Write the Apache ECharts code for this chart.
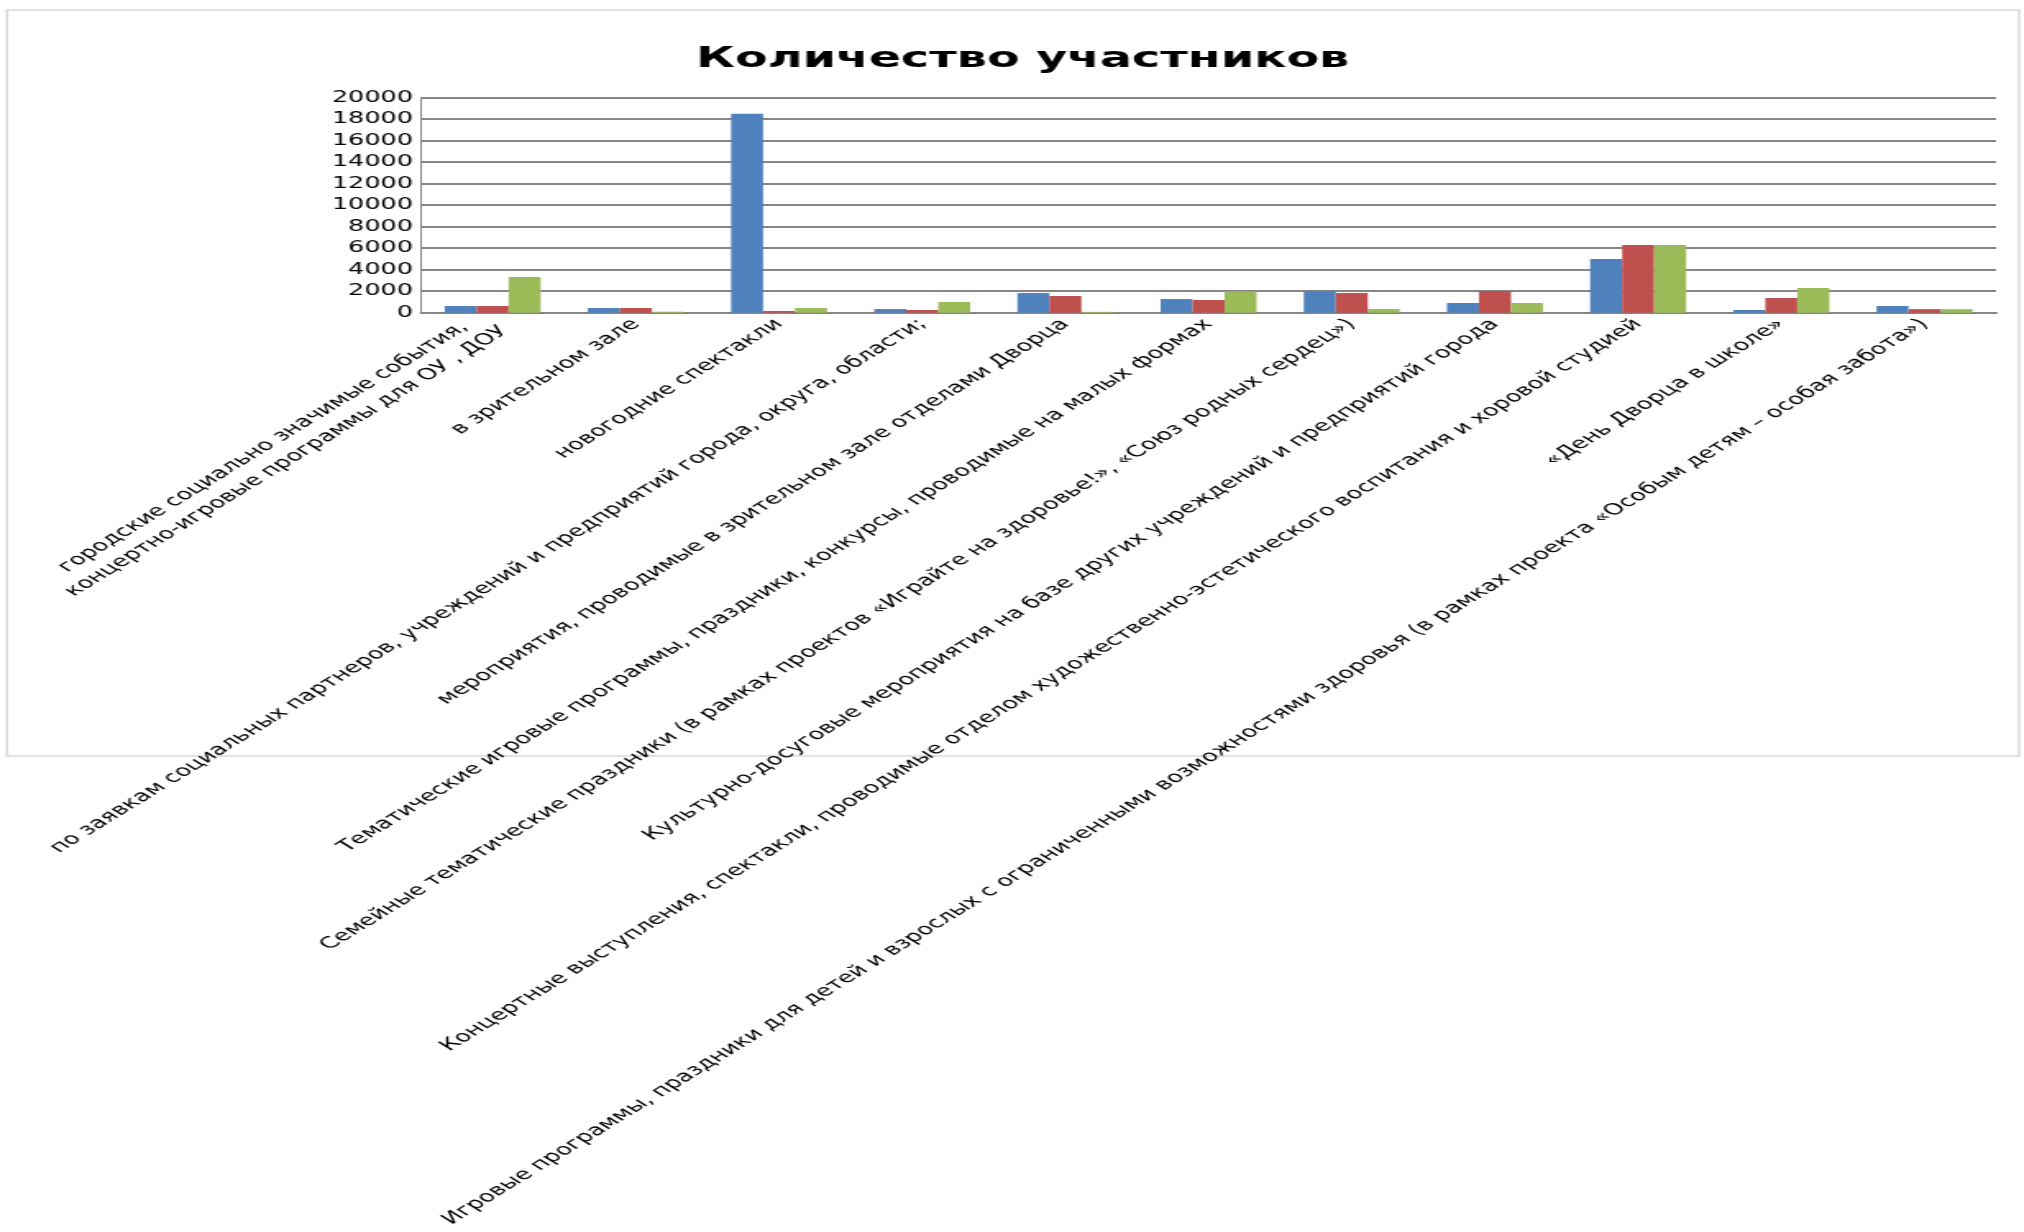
<!DOCTYPE html>
<html>
<head>
<meta charset="utf-8">
<script src="https://cdn.jsdelivr.net/npm/echarts@6/dist/echarts.min.js"></script>
<style>
html,body{margin:0;padding:0;overflow:hidden;background:#fff;width:2024px;height:1232px;}
#c{width:1233px;height:1232px;transform:scaleX(1.64152);transform-origin:0 0;}
</style>
</head>
<body>
<div id="c"></div>
<script>
// ---- data ----
const titleText = 'Количество участников';
const categories = [
  'городские социально значимые события,\nконцертно-игровые программы для ОУ , ДОУ',
  'в зрительном зале',
  'новогодние спектакли',
  'по заявкам социальных партнеров, учреждений и предприятий города, округа, области;',
  'мероприятия, проводимые в зрительном зале отделами Дворца',
  'Тематические игровые программы, праздники, конкурсы, проводимые на малых формах',
  'Семейные тематические праздники (в рамках проектов «Играйте на здоровье!», «Союз родных сердец»)',
  'Культурно-досуговые мероприятия на базе других учреждений и предприятий города',
  'Концертные выступления, спектакли, проводимые отделом художественно-эстетического воспитания и хоровой студией',
  '«День Дворца в школе»',
  'Игровые программы, праздники для детей и взрослых с ограниченными возможностями здоровья (в рамках проекта «Особым детям – особая забота»)'
];
const seriesNames = ['Ряд 1', 'Ряд 2', 'Ряд 3'];
const series1 = [620, 440, 18500, 340, 1830, 1270, 2000, 900, 5000, 250, 620];
const series2 = [620, 440, 160, 250, 1550, 1180, 1830, 2020, 6300, 1370, 330];
const series3 = [3320, 90, 440, 1000, 80, 1990, 340, 900, 6300, 2300, 330];
const yMin = 0, yMax = 20000, yStep = 2000;
const colors = ['#4F81BD', '#C0504D', '#9BBB59'];

// ---- chart ----
const chart = echarts.init(document.getElementById('c'));
const font = 'DejaVu Sans';
const labelSize = 15.75;
const mkSeries = (name, data, i) => ({
  name: name, type: 'bar', data: data,
  barGap: '0%', barCategoryGap: '33%',
  itemStyle: { color: colors[i] },
  emphasis: { disabled: true }
});
chart.setOption({
  animation: false,
  backgroundColor: '#ffffff',
  title: {
    text: titleText,
    left: 618, top: 40, textAlign: 'center',
    textStyle: { fontFamily: font, fontWeight: 'bold', fontSize: 29, color: '#000' }
  },
  graphic: [{
    type: 'rect', z: -10,
    shape: { x: 4.3, y: 10, width: 1225.7, height: 746 },
    style: { fill: 'none', stroke: '#d9d9d9', lineWidth: 1.5 }
  }],
  grid: { left: 256.5, right: 17, top: 97.7, bottom: 919.3 },
  xAxis: {
    type: 'category', data: categories,
    axisLine: { show: true, lineStyle: { color: '#868686', width: 2 } },
    axisTick: { show: false },
    axisLabel: {
      interval: 0, rotate: 45, margin: 9,
      fontFamily: font, fontSize: labelSize, color: '#000', lineHeight: 20,
      formatter: v => v.split('\n').map(s => '{c|' + s + '}').join('\n'),
      rich: { c: { align: 'center', fontFamily: font, fontSize: labelSize, color: '#000', lineHeight: 20 } }
    }
  },
  yAxis: {
    type: 'value', min: yMin, max: yMax, interval: yStep,
    axisLine: { show: true, lineStyle: { color: '#868686', width: 1 } },
    axisTick: { show: false },
    splitLine: { show: true, lineStyle: { color: '#868686', width: 2 } },
    axisLabel: { margin: 5, fontFamily: font, fontSize: 15.5, color: '#000', formatter: v => String(v) }
  },
  series: [
    mkSeries(seriesNames[0], series1, 0),
    mkSeries(seriesNames[1], series2, 1),
    mkSeries(seriesNames[2], series3, 2)
  ]
});
</script>
</body>
</html>
